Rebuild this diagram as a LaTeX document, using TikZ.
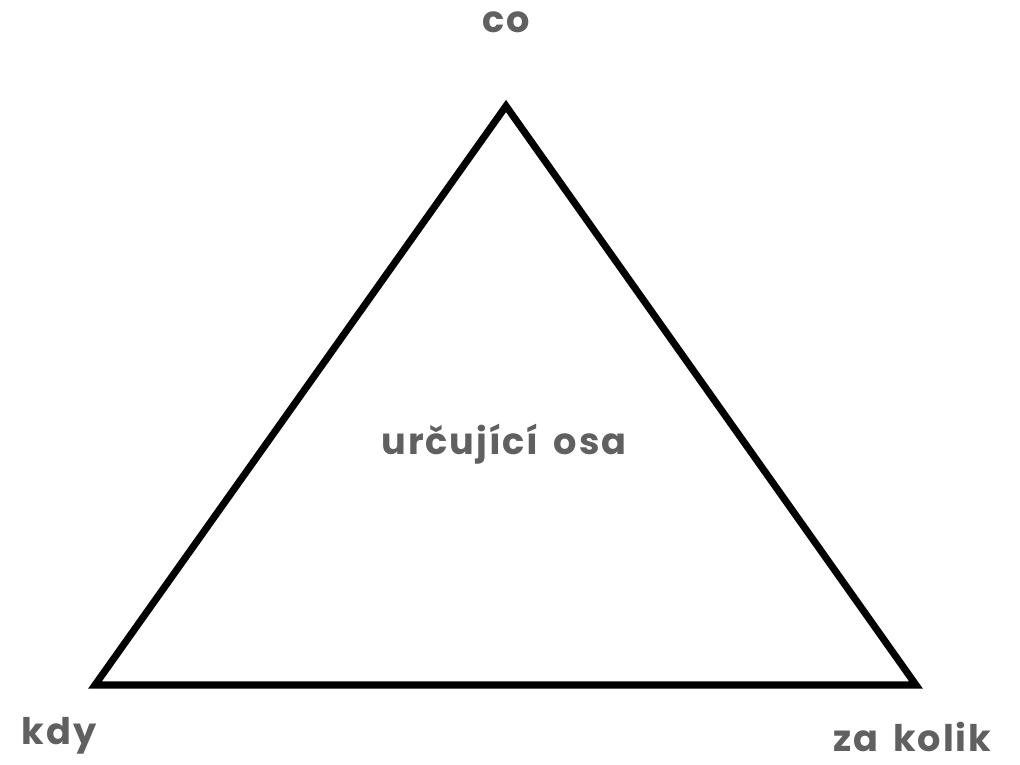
\documentclass[tikz,border=0pt]{standalone}
\usepackage{fontspec}
\setmainfont{Poppins}
\newfontfamily\lblfont[LetterSpace=5,WordSpace=1.6]{Poppins}
\begin{document}
\begin{tikzpicture}[x=0.75pt,y=-0.75pt,
  lbl/.style={text=labelgray,font=\lblfont\fontsize{27.5}{32}\selectfont\bfseries,inner sep=0pt,anchor=center},
  edge/.style={line width=5.3pt,line join=miter,black}]
\definecolor{labelgray}{HTML}{606060}
\useasboundingbox (0,0) rectangle (1020,764);
\coordinate (top) at (506,106);
\coordinate (bl) at (95,685);
\coordinate (br) at (916,685);
\draw[edge] (top) -- (bl) -- (br) -- cycle;
\node[lbl] (co) at (506,22) {co};
\node[lbl] (mid) at (504,444) {určující osa};
\node[lbl] (kdy) at (59,736) {kdy};
\node[lbl] (zk) at (912,737) {za kolik};
\end{tikzpicture}
\end{document}
